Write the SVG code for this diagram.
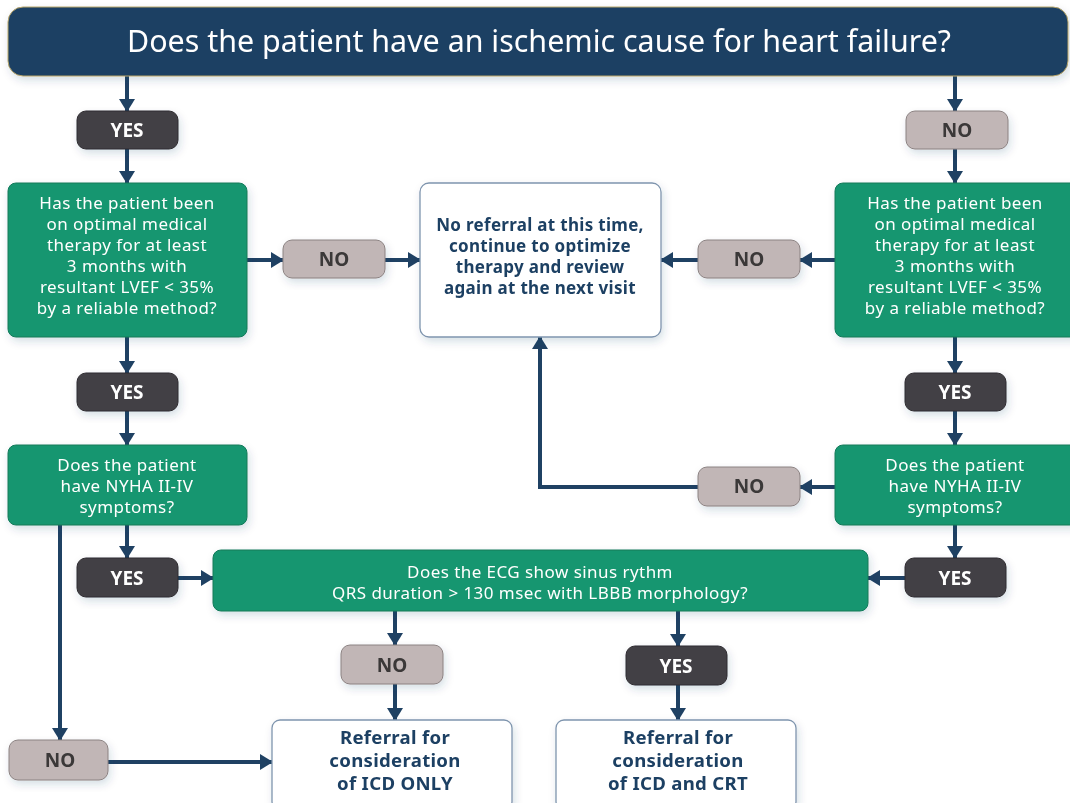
<svg xmlns="http://www.w3.org/2000/svg" width="1070" height="803" viewBox="0 0 1070 803">
<style>
.title{fill:#1f4163;stroke:#b8a66a;stroke-width:1}
.q{fill:#18966f;stroke:#127a5a;stroke-width:1}
.res{fill:#fff;stroke:#7f95ae;stroke-width:1.3}
.yes{fill:#434045;stroke:#2e2c30;stroke-width:1}
.no{fill:#c1b6b6;stroke:#8b8282;stroke-width:1}
.tt{font-family:"Noto Sans","Open Sans",sans-serif;font-size:30.4px;fill:#fff;text-anchor:middle}
.qt{font-family:"Noto Sans","Open Sans",sans-serif;font-size:17px;letter-spacing:0.45px;fill:#fff;text-anchor:middle}
.rt{font-family:"Noto Sans","Open Sans",sans-serif;font-size:17px;letter-spacing:0.3px;font-weight:bold;fill:#1f4163;text-anchor:middle}
.rt2{font-family:"Noto Sans","Open Sans",sans-serif;font-size:18.6px;letter-spacing:0.3px;font-weight:bold;fill:#1f4163;text-anchor:middle}
.yt{font-family:"Noto Sans","Open Sans",sans-serif;font-size:19px;font-weight:bold;fill:#fff;text-anchor:middle}
.nt{font-family:"Noto Sans","Open Sans",sans-serif;font-size:19px;font-weight:bold;fill:#3a3838;text-anchor:middle}
.c{fill:none;stroke:#1f4163;stroke-width:4;marker-end:url(#ah)}
</style>
<defs>
<marker id="ah" markerUnits="userSpaceOnUse" markerWidth="14" markerHeight="16" refX="12" refY="8" orient="auto">
<path d="M0,0 L13,8 L0,16 z" fill="#1f4163"/>
</marker>
<filter id="sh" x="-10%" y="-10%" width="125%" height="140%">
<feDropShadow dx="2" dy="4" stdDeviation="4" flood-color="#1f4163" flood-opacity="0.16"/>
</filter>
</defs>
<rect width="1070" height="803" fill="#fff"/>
<g id="connectors">
<path class="c" d="M127,76 V111"/>
<path class="c" d="M127,149 V183"/>
<path class="c" d="M247,260 H283"/>
<path class="c" d="M385,260 H420"/>
<path class="c" d="M955,76 V111"/>
<path class="c" d="M955,149 V183"/>
<path class="c" d="M835,260 H800"/>
<path class="c" d="M698,260 H661"/>
<path class="c" d="M127,337 V373"/>
<path class="c" d="M127,411 V445"/>
<path class="c" d="M955,337 V373"/>
<path class="c" d="M955,411 V445"/>
<path class="c" d="M835,487 H800"/>
<path class="c" d="M698,487 H540 V337"/>
<path class="c" d="M127,525 V558"/>
<path class="c" d="M955,525 V558"/>
<path class="c" d="M178,578 H213"/>
<path class="c" d="M905,578 H868"/>
<path class="c" d="M60,525 V740"/>
<path class="c" d="M108,762 H272"/>
<path class="c" d="M395,611 V645"/>
<path class="c" d="M395,684 V720"/>
<path class="c" d="M678,611 V646"/>
<path class="c" d="M678,685 V720"/>
</g>
<g id="title" filter="url(#sh)"><rect class="title" x="8" y="7" width="1060" height="69" rx="15"/><text class="tt" x="539" y="52">Does the patient have an ischemic cause for heart failure?</text></g>
<g id="yes1L" filter="url(#sh)"><rect class="yes" x="77" y="111" width="101" height="38" rx="9"/><text class="yt" x="127" y="137">YES</text></g>
<g id="no1R" filter="url(#sh)"><rect class="no" x="906" y="111" width="102" height="38" rx="9"/><text class="nt" x="957" y="137">NO</text></g>
<g id="q1L" filter="url(#sh)"><rect class="q" x="8" y="183" width="239" height="154" rx="8"/>
<text class="qt"><tspan x="127" y="209">Has the patient been</tspan><tspan x="127" dy="21">on optimal medical</tspan><tspan x="127" dy="21">therapy for at least</tspan><tspan x="127" dy="21">3 months with</tspan><tspan x="127" dy="21">resultant LVEF &lt; 35%</tspan><tspan x="127" dy="21">by a reliable method?</tspan></text></g>
<g id="q1R" filter="url(#sh)"><rect class="q" x="835" y="183" width="245" height="154" rx="8"/>
<text class="qt"><tspan x="955" y="209">Has the patient been</tspan><tspan x="955" dy="21">on optimal medical</tspan><tspan x="955" dy="21">therapy for at least</tspan><tspan x="955" dy="21">3 months with</tspan><tspan x="955" dy="21">resultant LVEF &lt; 35%</tspan><tspan x="955" dy="21">by a reliable method?</tspan></text></g>
<g id="no2L" filter="url(#sh)"><rect class="no" x="283" y="240" width="102" height="38" rx="9"/><text class="nt" x="334" y="266">NO</text></g>
<g id="no2R" filter="url(#sh)"><rect class="no" x="698" y="240" width="102" height="38" rx="9"/><text class="nt" x="749" y="266">NO</text></g>
<g id="noref" filter="url(#sh)"><rect class="res" x="420" y="183" width="241" height="154" rx="9"/>
<text class="rt"><tspan x="540" y="231">No referral at this time,</tspan><tspan x="540" dy="21">continue to optimize</tspan><tspan x="540" dy="21">therapy and review</tspan><tspan x="540" dy="21">again at the next visit</tspan></text></g>
<g id="yes2L" filter="url(#sh)"><rect class="yes" x="77" y="373" width="101" height="38" rx="9"/><text class="yt" x="127" y="399">YES</text></g>
<g id="yes2R" filter="url(#sh)"><rect class="yes" x="905" y="373" width="101" height="38" rx="9"/><text class="yt" x="955" y="399">YES</text></g>
<g id="q2L" filter="url(#sh)"><rect class="q" x="8" y="445" width="239" height="80" rx="8"/>
<text class="qt"><tspan x="127" y="471">Does the patient</tspan><tspan x="127" dy="21">have NYHA II-IV</tspan><tspan x="127" dy="21">symptoms?</tspan></text></g>
<g id="q2R" filter="url(#sh)"><rect class="q" x="835" y="445" width="245" height="80" rx="8"/>
<text class="qt"><tspan x="955" y="471">Does the patient</tspan><tspan x="955" dy="21">have NYHA II-IV</tspan><tspan x="955" dy="21">symptoms?</tspan></text></g>
<g id="no3R" filter="url(#sh)"><rect class="no" x="698" y="467" width="102" height="39" rx="9"/><text class="nt" x="749" y="493">NO</text></g>
<g id="yes3L" filter="url(#sh)"><rect class="yes" x="77" y="558" width="101" height="39" rx="9"/><text class="yt" x="127" y="585">YES</text></g>
<g id="yes3R" filter="url(#sh)"><rect class="yes" x="905" y="558" width="101" height="39" rx="9"/><text class="yt" x="955" y="585">YES</text></g>
<g id="ecg" filter="url(#sh)"><rect class="q" x="213" y="550" width="655" height="61" rx="8"/>
<text class="qt"><tspan x="540" y="578">Does the ECG show sinus rythm</tspan><tspan x="540" dy="21">QRS duration &gt; 130 msec with LBBB morphology?</tspan></text></g>
<g id="no4" filter="url(#sh)"><rect class="no" x="341" y="645" width="102" height="39" rx="9"/><text class="nt" x="392" y="672">NO</text></g>
<g id="yes4" filter="url(#sh)"><rect class="yes" x="626" y="646" width="101" height="39" rx="9"/><text class="yt" x="676" y="673">YES</text></g>
<g id="no5" filter="url(#sh)"><rect class="no" x="9" y="740" width="99" height="40" rx="9"/><text class="nt" x="60" y="767">NO</text></g>
<g id="icdonly" filter="url(#sh)"><rect class="res" x="272" y="720" width="240" height="90" rx="8"/>
<text class="rt2"><tspan x="395" y="744">Referral for</tspan><tspan x="395" dy="23">consideration</tspan><tspan x="395" dy="23">of ICD ONLY</tspan></text></g>
<g id="icdcrt" filter="url(#sh)"><rect class="res" x="556" y="720" width="240" height="90" rx="8"/>
<text class="rt2"><tspan x="678" y="744">Referral for</tspan><tspan x="678" dy="23">consideration</tspan><tspan x="678" dy="23">of ICD and CRT</tspan></text></g>
</svg>
